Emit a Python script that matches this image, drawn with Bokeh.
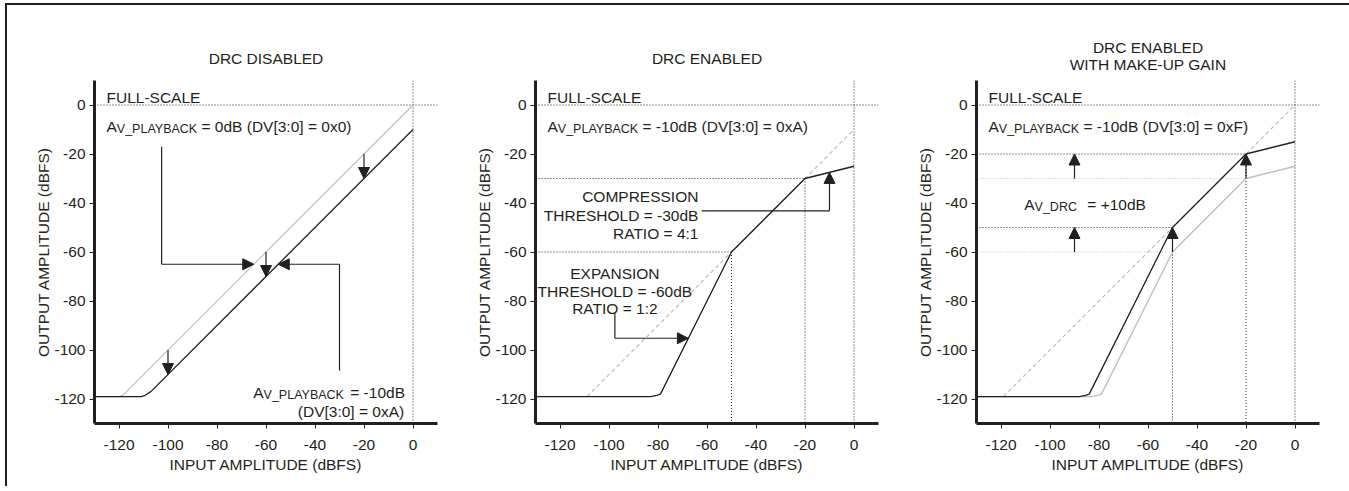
from bokeh.plotting import figure
from bokeh.models import ColumnDataSource, Arrow, NormalHead, FixedTicker, Title, Range1d
from bokeh.layouts import row
from bokeh.core.properties import value
from bokeh.embed import file_html
from bokeh.resources import INLINE

FONT = "Liberation Sans"
FS = "15.5px"
SUB_FS = "12.5px"
BLACK = "#231f20"
GRAY = "#bdbdbd"

# ---------------- data ----------------
tick_values = [-120, -100, -80, -60, -40, -20, 0]
tick_labels = ["-120", "-100", "-80", "-60", "-40", "-20", "0"]

# panel 1 : DRC disabled
p1_gray_x = [-130, -120, -118.5, 0]
p1_gray_y = [-119, -119, -118.5, 0]
p1_black_x = [-130, -111, -109.5, -107, 0]
p1_black_y = [-119, -119, -118.6, -117, -10]
p1_arrow_x = [-20, -60, -100]
p1_arrow_from = [-20, -60, -100]
p1_arrow_to = [-30, -70, -110]

# panel 2 : DRC enabled
p2_ref_x = [-109, 0]
p2_ref_y = [-119, -10]
p2_black_x = [-130, -83, -80.5, -79, -50, -20, 0]
p2_black_y = [-119, -119, -118.5, -118, -60, -30, -25]

# panel 3 : DRC enabled with make-up gain
p3_ref_x = [-119, 0]
p3_ref_y = [-119, 0]
p3_gray_x = [-130, -83, -80.5, -79, -50, -20, 0]
p3_gray_y = [-119, -119, -118.5, -118, -60, -30, -25]
p3_black_x = [-130, -88, -85.5, -84, -50, -20, 0]
p3_black_y = [-119, -119, -118.5, -118, -50, -20, -15]
p3_arrow_x = [-90, -90, -50, -20]
p3_arrow_from = [-30, -60, -60, -30]
p3_arrow_to = [-20, -50, -50, -20]


def txt(p, x, y, s, align="left", size=FS, xo=0, yo=0):
    p.text(x=[x], y=[y], text=[s], text_font=value(FONT), text_font_size=size,
           text_align=align, text_baseline="alphabetic", x_offset=xo, y_offset=yo,
           text_color=BLACK)


def av(p, x, y, sub, rest, sub_dx=10.3, rest_dx=95, sub_dy=2.5):
    txt(p, x, y, "A")
    txt(p, x, y, sub, size=SUB_FS, xo=sub_dx, yo=sub_dy)
    txt(p, x, y, rest, xo=rest_dx)


def dotted(p, x0, y0, x1, y1, color=BLACK):
    p.segment(x0=[x0], y0=[y0], x1=[x1], y1=[y1], line_color=color,
              line_width=1, line_dash="1 2")


def arrows(p, xs0, ys0, xs1, ys1):
    src = ColumnDataSource(dict(x0=xs0, y0=ys0, x1=xs1, y1=ys1))
    p.add_layout(Arrow(end=NormalHead(size=11, fill_color=BLACK, line_color=BLACK, line_width=1),
                       x_start="x0", y_start="y0", x_end="x1", y_end="y1",
                       line_color=BLACK, line_width=1.2, source=src))


def make_fig(width, title, standoff):
    p = figure(width=width, height=481, x_range=Range1d(-130, 10), y_range=Range1d(-130, 10),
               output_backend="svg", toolbar_location=None,
               min_border_left=87, min_border_right=width - 87 - 343,
               min_border_top=75, min_border_bottom=63)
    p.title.text = title
    p.title.align = "center"
    p.title.text_font = FONT
    p.title.text_font_size = FS
    p.title.text_font_style = "normal"
    p.title.text_color = BLACK
    p.title.standoff = standoff
    p.grid.visible = False
    p.outline_line_color = None
    for ax in (p.xaxis[0], p.yaxis[0]):
        ax.ticker = FixedTicker(ticks=tick_values)
        ax.major_label_overrides = {v: l for v, l in zip(tick_values, tick_labels)}
        ax.axis_line_width = 3
        ax.axis_line_color = BLACK
        ax.major_tick_line_color = BLACK
        ax.major_tick_line_width = 1
        ax.major_tick_out = 5
        ax.major_tick_in = 0
        ax.minor_tick_line_color = None
        ax.major_label_text_font = FONT
        ax.major_label_text_font_size = FS
        ax.major_label_text_color = BLACK
        ax.axis_label_text_font = FONT
        ax.axis_label_text_font_size = FS
        ax.axis_label_text_font_style = "normal"
        ax.axis_label_text_color = BLACK
    p.xaxis.axis_label = "INPUT AMPLITUDE (dBFS)"
    p.yaxis.axis_label = "OUTPUT AMPLITUDE (dBFS)"
    p.xaxis.major_label_standoff = 11
    p.yaxis.major_label_standoff = 4
    p.xaxis.axis_label_standoff = 3
    p.yaxis.axis_label_standoff = -1
    # full-scale reference lines
    dotted(p, -130, 0, 10, 0)
    dotted(p, 0, -130, 0, 10)
    txt(p, -125.1, 3.2, "FULL-SCALE")
    return p


# ---------------- panel 1 ----------------
p1 = make_fig(441, "DRC DISABLED", 27)
p1.line(p1_gray_x, p1_gray_y, line_color=GRAY, line_width=1.2)
p1.line(p1_black_x, p1_black_y, line_color=BLACK, line_width=1.3)
arrows(p1, p1_arrow_x, p1_arrow_from, p1_arrow_x, p1_arrow_to)
p1.line([-102.6, -102.6], [-17, -65], line_color=BLACK, line_width=1.2)
p1.line([-30, -30], [-108.4, -65], line_color=BLACK, line_width=1.2)
arrows(p1, [-102.6, -30], [-65, -65], [-65, -55], [-65, -65])
av(p1, -125.1, -8.6, "V_PLAYBACK", "= 0dB (DV[3:0] = 0x0)")
av(p1, -65.2, -117.3, "V_PLAYBACK", "= -10dB", rest_dx=97)
txt(p1, -3.6, -125.1, "(DV[3:0] = 0xA)", align="right")

# ---------------- panel 2 ----------------
p2 = make_fig(441, "DRC ENABLED", 27)
p2.line(p2_ref_x, p2_ref_y, line_color=GRAY, line_width=1.2, line_dash="4 3")
dotted(p2, -130, -30, -20, -30)
dotted(p2, -20, -30, -20, -130)
dotted(p2, -130, -60, -50, -60)
dotted(p2, -50, -60, -50, -130)
p2.line(p2_black_x, p2_black_y, line_color=BLACK, line_width=1.3)
av(p2, -125.1, -8.6, "V_PLAYBACK", "= -10dB (DV[3:0] = 0xA)")
txt(p2, -63.5, -37.5, "COMPRESSION", align="right")
txt(p2, -63.5, -45.0, "THRESHOLD = -30dB", align="right")
txt(p2, -63.5, -52.5, "RATIO = 4:1", align="right")
p2.line([-62.2, -10], [-43.2, -43.2], line_color=BLACK, line_width=1.2)
arrows(p2, [-10], [-43.2], [-10], [-27.5])
txt(p2, -97.6, -68.9, "EXPANSION", align="center")
txt(p2, -97.6, -76.0, "THRESHOLD = -60dB", align="center")
txt(p2, -97.6, -83.2, "RATIO = 1:2", align="center")
p2.line([-97.6, -97.6], [-85, -95.2], line_color=BLACK, line_width=1.2)
arrows(p2, [-97.6], [-95.2], [-67.6], [-95.2])

# ---------------- panel 3 ----------------
p3 = make_fig(461, "DRC ENABLED", -21)
p3.add_layout(Title(text="WITH MAKE-UP GAIN", align="center", text_font=FONT, text_font_size=FS,
                    text_font_style="normal", text_color=BLACK, standoff=15.5), "above")
p3.line(p3_ref_x, p3_ref_y, line_color=GRAY, line_width=1.2, line_dash="4 3")
dotted(p3, -130, -30, -20, -30, color=GRAY)
dotted(p3, -130, -60, -50, -60, color=GRAY)
dotted(p3, -130, -20, -20, -20)
dotted(p3, -20, -20, -20, -130)
dotted(p3, -130, -50, -50, -50)
dotted(p3, -50, -50, -50, -130)
p3.line(p3_gray_x, p3_gray_y, line_color=GRAY, line_width=1.3)
p3.line(p3_black_x, p3_black_y, line_color=BLACK, line_width=1.3)
arrows(p3, p3_arrow_x, p3_arrow_from, p3_arrow_x, p3_arrow_to)
av(p3, -125.1, -8.6, "V_PLAYBACK", "= -10dB (DV[3:0] = 0xF)")
av(p3, -110.5, -40.5, "V_DRC", "= +10dB", rest_dx=63)

layout = row(p1, p2, p3, styles={"border-top": "2px solid #231f20",
                                 "border-left": "2px solid #231f20",
                                 "border-right": "2px solid #231f20",
                                 "margin-top": "3px",
                                 "margin-left": "5px"})

open("out.html", "w").write(file_html(layout, INLINE))
